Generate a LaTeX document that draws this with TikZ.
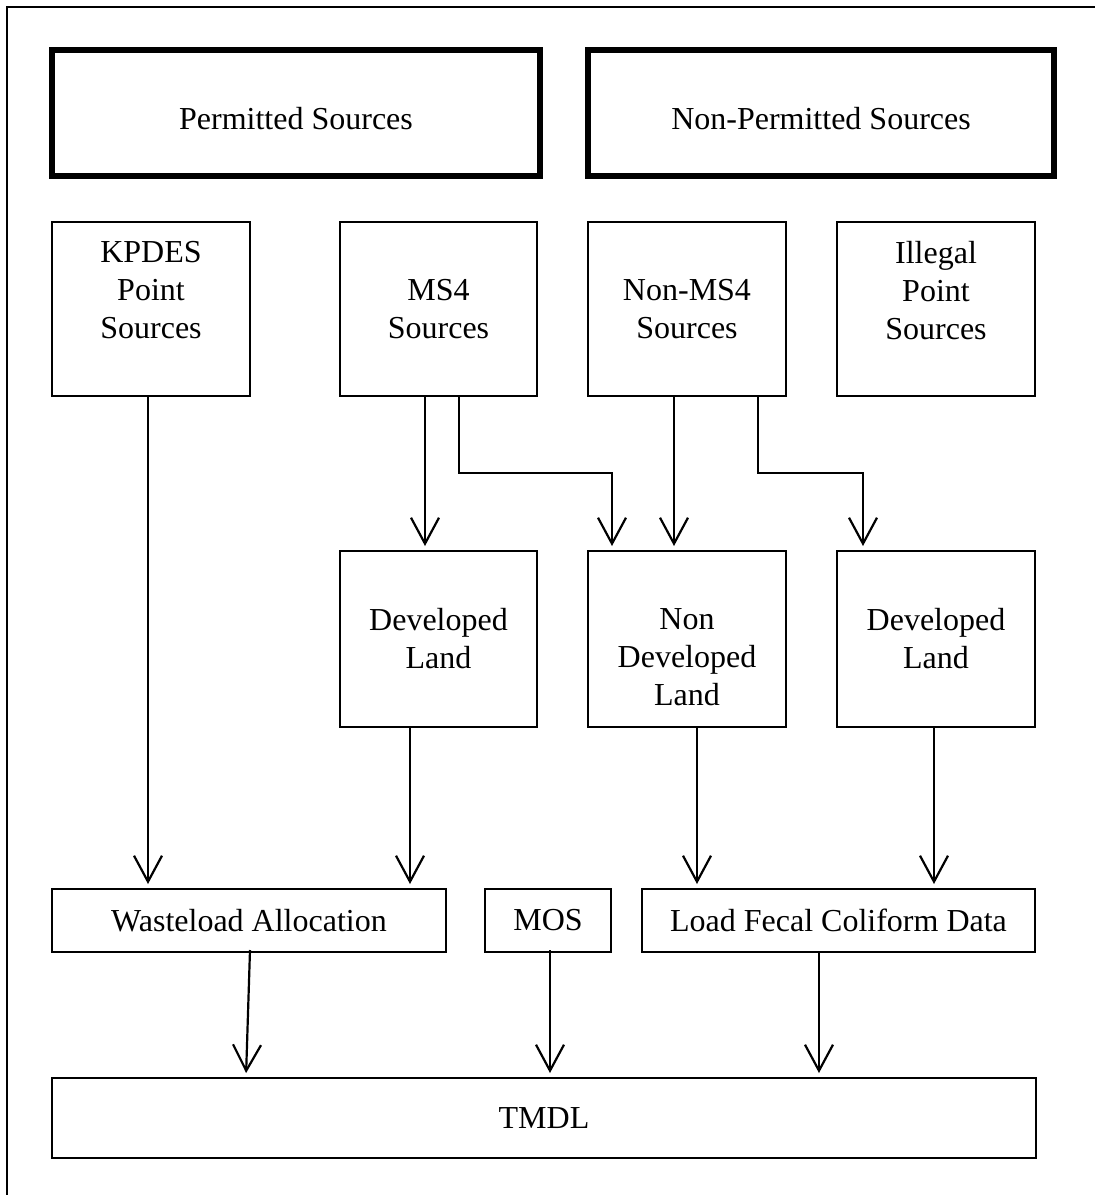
\documentclass[tikz,border=0pt]{standalone}
\usepackage{fontspec}
\setmainfont{Liberation Serif}
\usetikzlibrary{arrows.meta}
\begin{document}
\begin{tikzpicture}[x=1pt,y=-1pt,
  box/.style={draw=black,line width=2pt,inner sep=0pt,align=center,
    font=\fontsize{32}{38}\selectfont},
  thickbox/.style={box,line width=5.5pt,text height=40pt,text depth=8pt},
  arr/.style={draw=black,line width=2.2pt,-{Straight Barb[length=26pt,width=28pt]},shorten >=4pt},
]
\useasboundingbox (0,0) rectangle (1095,1195);
\fill[white,overlay] (-10,-10) rectangle (1110,1210);
\draw[line width=2.5pt,overlay] (7,1210) -- (7,7) -- (1095,7);

% row 1
\node[thickbox,minimum width=488pt,minimum height=126pt] (perm) at (296,113) {Permitted Sources};
\node[thickbox,minimum width=466pt,minimum height=126pt] (nonperm) at (821,113) {Non-Permitted Sources};

% row 2
\node[box,minimum width=198pt,minimum height=174pt] (kpdes) at (151,309) {KPDES\\Point\\Sources\\\mbox{}};
\node[box,minimum width=197pt,minimum height=174pt] (ms4) at (438.5,309) {MS4\\Sources};
\node[box,minimum width=198pt,minimum height=174pt] (nonms4) at (687,309) {Non-MS4\\Sources};
\node[box,minimum width=198pt,minimum height=174pt] (illegal) at (936,309) {Illegal\\Point\\Sources\\\mbox{}};

% row 3
\node[box,minimum width=197pt,minimum height=176pt] (dev1) at (438.5,639) {Developed\\Land};
\node[box,minimum width=198pt,minimum height=176pt] (nondev) at (687,639) {\mbox{}\\[20pt]Non\\Developed\\Land};
\node[box,minimum width=198pt,minimum height=176pt] (dev2) at (936,639) {Developed\\Land};

% row 4
\node[box,minimum width=394pt,minimum height=63pt] (wla) at (249,920.5) {Wasteload Allocation};
\node[box,minimum width=126pt,minimum height=63pt] (mos) at (548,920.5) {MOS};
\node[box,minimum width=393pt,minimum height=63pt] (load) at (838.5,920.5) {Load Fecal Coliform Data};

% row 5
\node[box,minimum width=984pt,minimum height=80pt] (tmdl) at (544,1118) {TMDL};

% connectors
\draw[arr] ([xshift=-3pt]kpdes.south) -- ([xshift=-3pt]kpdes.south |- wla.north);
\draw[arr] ([xshift=-13.5pt]ms4.south) -- ([xshift=-13.5pt]ms4.south |- dev1.north);
\draw[arr] ([xshift=20.5pt]ms4.south) |- (612,473) -- (612,0 |- nondev.north);
\draw[arr] ([xshift=-13pt]nonms4.south) -- ([xshift=-13pt]nonms4.south |- nondev.north);
\draw[arr] ([xshift=71pt]nonms4.south) |- (863,473) -- (863,0 |- dev2.north);
\draw[arr] ([xshift=-28.5pt]dev1.south) -- ([xshift=-28.5pt]dev1.south |- wla.north);
\draw[arr] ([xshift=10pt]nondev.south) -- ([xshift=10pt]nondev.south |- load.north);
\draw[arr] ([xshift=-2pt]dev2.south) -- ([xshift=-2pt]dev2.south |- load.north);
\draw[arr] ([xshift=1pt,yshift=3pt]wla.south) -- ([xshift=-3pt]wla.south |- tmdl.north);
\draw[arr] ([xshift=2pt,yshift=3pt]mos.south) -- ([xshift=2pt]mos.south |- tmdl.north);
\draw[arr] ([xshift=-19.5pt]load.south) -- ([xshift=-19.5pt]load.south |- tmdl.north);
\end{tikzpicture}
\end{document}
